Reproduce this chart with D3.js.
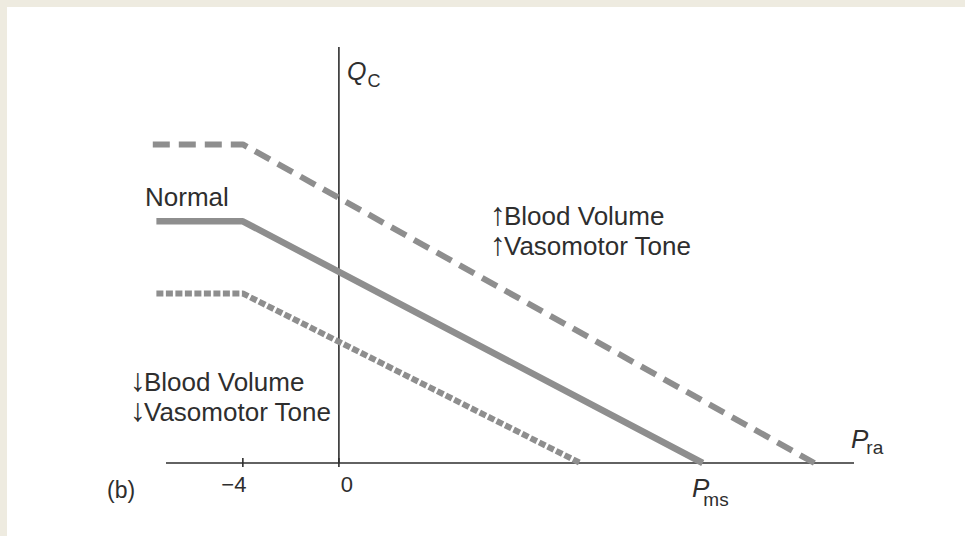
<!DOCTYPE html>
<html>
<head>
<meta charset="utf-8">
<script src="https://cdn.jsdelivr.net/npm/d3@7"></script>
<style>
  html, body { margin: 0; padding: 0; background: #eeebe0; }
  svg { display: block; }
</style>
</head>
<body>
<svg id="chart" width="965" height="536"></svg>
<script>
// venous return curves, x = Pra, y = Qc (arbitrary units)
var upX = [-7.75, -4, 19.8],
    upY = [13.25, 13.25, 0],
    normalX = [-7.6, -4, 15.15],
    normalY = [10.05, 10.05, 0],
    downX = [-7.6, -4, 10.05],
    downY = [7.05, 7.05, 0],
    tickValues = [-4, 0],
    tickLabels = ["\u22124", "0"];

var width = 965, height = 536,
    lineGray = "#8e8e8e",
    ink = "#2e2e2e",
    font = "'Liberation Sans', Arial, Helvetica, sans-serif";

var svg = d3.select("#chart");

// white panel, beige strip left + top
svg.append("rect")
    .attr("x", 7).attr("y", 7)
    .attr("width", width - 7).attr("height", height - 7)
    .attr("fill", "#ffffff");

var x = d3.scaleLinear()
    .domain([-7.2, 21.45])
    .range([166, 854]);

var y = d3.scaleLinear()
    .domain([0, 17.3])
    .range([463, 47]);

var line = d3.line()
    .x(function(d) { return x(d[0]); })
    .y(function(d) { return y(d[1]); });

function pts(xs, ys) {
    return xs.map(function(v, i) { return [v, ys[i]]; });
}

// axes
var axes = svg.append("g").attr("class", "axes")
    .attr("stroke", ink)
    .attr("stroke-width", 1.6);

axes.append("line")
    .attr("x1", x(-7.2)).attr("x2", x(21.45))
    .attr("y1", y(0)).attr("y2", y(0));

axes.append("line")
    .attr("x1", x(0)).attr("x2", x(0))
    .attr("y1", y(0)).attr("y2", y(17.3));

axes.selectAll(".tick")
    .data(tickValues)
    .enter()
    .append("line")
    .attr("x1", function(d) { return x(d); })
    .attr("x2", function(d) { return x(d); })
    .attr("y1", y(0) - 5)
    .attr("y2", y(0) + 4);

var curves = svg.append("g").attr("class", "curves")
    .attr("fill", "none")
    .attr("stroke", lineGray)
    .attr("stroke-linejoin", "round");

curves.append("path")
    .attr("d", line(pts(upX, upY)))
    .attr("stroke-width", 6)
    .attr("stroke-dasharray", "17 9");

curves.append("path")
    .attr("d", line(pts(normalX, normalY)))
    .attr("stroke-width", 6.5);

curves.append("path")
    .attr("d", line(pts(downX, downY)))
    .attr("stroke-width", 6)
    .attr("stroke-dasharray", "7 2.5");

// text
var labels = svg.append("g")
    .attr("fill", ink)
    .attr("font-family", font);

labels.selectAll(".ticklabel")
    .data(tickValues)
    .enter()
    .append("text")
    .attr("x", function(d, i) { return x(d) + (i == 0 ? -9 : 8); })
    .attr("y", 492)
    .attr("font-size", "22px")
    .attr("text-anchor", "middle")
    .text(function(d, i) { return tickLabels[i]; });

labels.append("text")
    .attr("x", 107).attr("y", 498)
    .attr("font-size", "23px")
    .text("(b)");

labels.append("text")
    .attr("x", 145).attr("y", 206)
    .attr("font-size", "26px")
    .text("Normal");

function arrowLabel(ax, by, arrow, lines) {
    lines.forEach(function(t, i) {
        var tx = labels.append("text")
            .attr("x", ax).attr("y", by + i * 30)
            .attr("font-size", "26px");
        tx.append("tspan")
            .attr("font-size", "32px")
            .attr("font-family", "'Liberation Sans Narrow', 'Liberation Sans', sans-serif")
            .text(arrow);
        tx.append("tspan")
            .attr("dx", -2)
            .text(t);
    });
}

arrowLabel(490, 225, "\u2191", ["Blood Volume", "Vasomotor Tone"]);
arrowLabel(130, 391, "\u2193", ["Blood Volume", "Vasomotor Tone"]);

// axis titles
var qc = labels.append("text")
    .attr("x", 347).attr("y", 80)
    .attr("font-size", "25px");
qc.append("tspan").attr("font-style", "italic").text("Q");
qc.append("tspan").attr("font-size", "18px").attr("dy", 7).attr("dx", 1).text("C");

var pra = labels.append("text")
    .attr("x", 851).attr("y", 448)
    .attr("font-size", "26px");
pra.append("tspan").attr("font-style", "italic").text("P");
pra.append("tspan").attr("font-size", "19px").attr("dy", 6).attr("dx", -2).text("ra");

var pms = labels.append("text")
    .attr("x", 692).attr("y", 497)
    .attr("font-size", "26px");
pms.append("tspan").attr("font-style", "italic").text("P");
pms.append("tspan").attr("font-size", "19px").attr("dy", 9).attr("dx", -6).text("ms");
</script>
</body>
</html>
